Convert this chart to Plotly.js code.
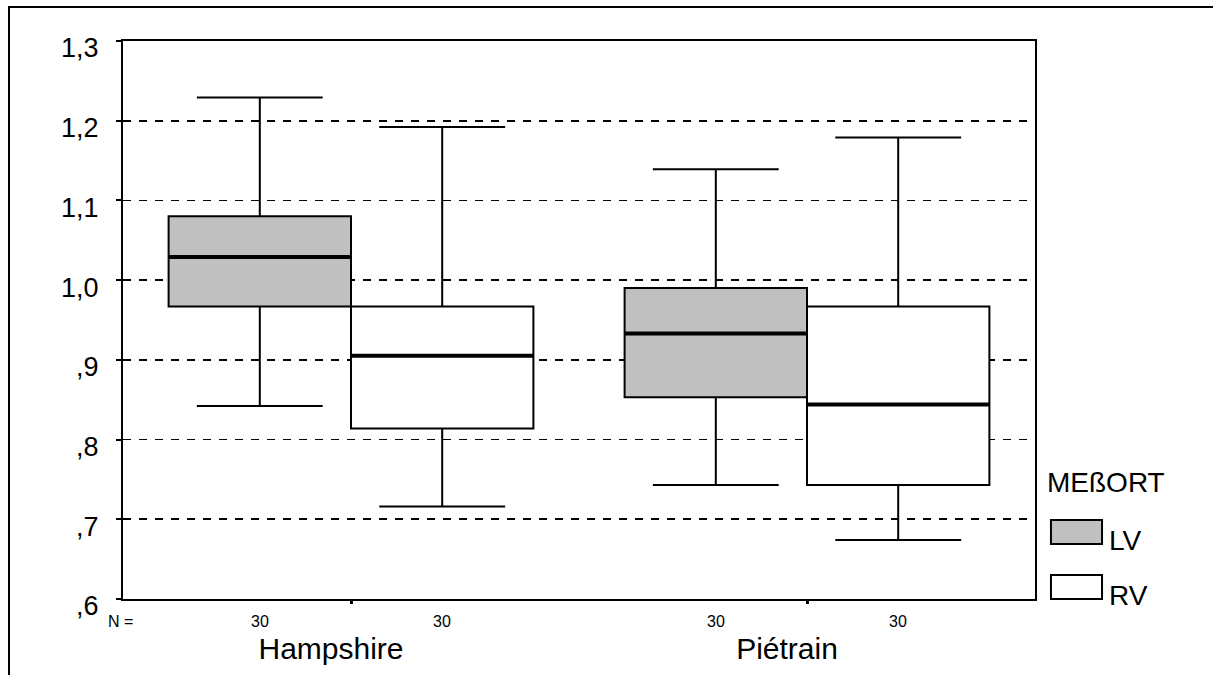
<!DOCTYPE html>
<html>
<head>
<meta charset="utf-8">
<script src="https://cdn.plot.ly/plotly-3.0.1.min.js"></script>
<style>
  html, body { margin: 0; padding: 0; background: #fff; }
  #wrap { position: relative; width: 1213px; height: 675px; overflow: hidden; }
  #chart { position: absolute; left: 0; top: 0; width: 1213px; height: 675px; }
  #frame { position: absolute; left: 8px; top: 6px; width: 1210px; height: 675px;
           border-top: 2px solid #000; border-left: 2px solid #000; pointer-events: none; }
</style>
</head>
<body>
<div id="wrap"><div id="chart"></div><div id="frame"></div></div>
<script>
// ---- data ----
const categories = ['Hampshire', 'Piétrain'];
const seriesNames = ['LV', 'RV'];
const legendTitle = 'MEßORT';

const lvLower  = [0.842, 0.743];
const lvQ1     = [0.967, 0.853];
const lvMedian = [1.029, 0.933];
const lvQ3     = [1.080, 0.990];
const lvUpper  = [1.229, 1.139];

const rvLower  = [0.716, 0.674];
const rvQ1     = [0.814, 0.743];
const rvMedian = [0.905, 0.844];
const rvQ3     = [0.967, 0.967];
const rvUpper  = [1.192, 1.179];

const nLV = [30, 30];
const nRV = [30, 30];

const yTickVals = [0.6, 0.7, 0.8, 0.9, 1.0, 1.1, 1.2, 1.3];
const yTickText = [',6', ',7', ',8', ',9', '1,0', '1,1', '1,2', '1,3'];

// ---- style ----
const FONT = 'Liberation Sans, Arial, sans-serif';
const lvFill = '#c0c0c0';
const rvFill = '#ffffff';
const boxHalf = 0.2; // offset of each box within its category group

function boxTrace(name, lo, q1, med, q3, hi, fill) {
  return {
    type: 'box', name: name, x: categories,
    lowerfence: lo, q1: q1, median: med, q3: q3, upperfence: hi,
    boxpoints: false, fillcolor: fill,
    line: { color: '#000', width: 2 },
    whiskerwidth: 0.69, hoverinfo: 'skip', showlegend: false
  };
}

const traces = [
  boxTrace(seriesNames[0], lvLower, lvQ1, lvMedian, lvQ3, lvUpper, lvFill),
  boxTrace(seriesNames[1], rvLower, rvQ1, rvMedian, rvQ3, rvUpper, rvFill)
];

const shapes = [];
const annotations = [];
categories.forEach((c, i) => {
  // thick median lines
  shapes.push({ type: 'line', xref: 'x', yref: 'y', x0: i - 2 * boxHalf, x1: i,
    y0: lvMedian[i], y1: lvMedian[i], line: { color: '#000', width: 4 } });
  shapes.push({ type: 'line', xref: 'x', yref: 'y', x0: i, x1: i + 2 * boxHalf,
    y0: rvMedian[i], y1: rvMedian[i], line: { color: '#000', width: 4 } });
  // N counts
  annotations.push({ xref: 'x', yref: 'paper', x: i - boxHalf, y: 0, yanchor: 'top', yshift: -12,
    text: String(nLV[i]), showarrow: false, font: { family: FONT, size: 16, color: '#000' } });
  annotations.push({ xref: 'x', yref: 'paper', x: i + boxHalf, y: 0, yanchor: 'top', yshift: -12,
    text: String(nRV[i]), showarrow: false, font: { family: FONT, size: 16, color: '#000' } });
});
annotations.push({ xref: 'paper', yref: 'paper', x: 0, y: 0, xanchor: 'left', yanchor: 'top',
  xshift: -17, yshift: -12, text: 'N =', showarrow: false, font: { family: FONT, size: 16, color: '#000' } });

// legend (drawn manually)
annotations.push({ xref: 'paper', yref: 'paper', x: 1.011, y: 0.208, xanchor: 'left', yanchor: 'middle',
  text: legendTitle, showarrow: false, font: { family: FONT, size: 28, color: '#000' } });
annotations.push({ xref: 'paper', yref: 'paper', x: 1.079, y: 0.104, xanchor: 'left', yanchor: 'middle',
  text: seriesNames[0], showarrow: false, font: { family: FONT, size: 28, color: '#000' } });
annotations.push({ xref: 'paper', yref: 'paper', x: 1.079, y: 0.006, xanchor: 'left', yanchor: 'middle',
  text: seriesNames[1], showarrow: false, font: { family: FONT, size: 28, color: '#000' } });
shapes.push({ type: 'rect', xref: 'paper', yref: 'paper', x0: 1.0175, x1: 1.0735, y0: 0.0986, y1: 0.1416,
  fillcolor: lvFill, line: { color: '#000', width: 2 } });
shapes.push({ type: 'rect', xref: 'paper', yref: 'paper', x0: 1.0175, x1: 1.0735, y0: 0.0, y1: 0.043,
  fillcolor: rvFill, line: { color: '#000', width: 2 } });

const layout = {
  width: 1213, height: 675,
  margin: { l: 123, r: 178, t: 41, b: 76, pad: 0 },
  paper_bgcolor: 'rgba(0,0,0,0)', plot_bgcolor: '#fff',
  boxmode: 'group', boxgap: 0.2, boxgroupgap: 0,
  showlegend: false, hovermode: false,
  font: { family: FONT, color: '#000' },
  xaxis: {
    type: 'category', range: [-0.5, 1.5], fixedrange: true,
    showline: true, linecolor: '#000', linewidth: 2, mirror: true,
    showgrid: false, zeroline: false,
    ticks: 'outside', ticklen: 3, tickwidth: 3, tickcolor: '#000',
    ticklabelstandoff: 19, ticklabelshift: -20,
    tickfont: { family: FONT, size: 30, color: '#000' }
  },
  yaxis: {
    range: [0.6, 1.3], fixedrange: true,
    tickmode: 'array', tickvals: yTickVals, ticktext: yTickText,
    showline: true, linecolor: '#000', linewidth: 2, mirror: true,
    showgrid: true, gridcolor: '#000', gridwidth: 1.6, griddash: '8px,8px',
    zeroline: false,
    ticks: 'outside', ticklen: 5, tickwidth: 2, tickcolor: '#000',
    ticklabelstandoff: 12, ticklabelshift: 7,
    tickfont: { family: FONT, size: 27, color: '#000' }
  },
  shapes: shapes,
  annotations: annotations
};

Plotly.newPlot('chart', traces, layout, { staticPlot: true, displayModeBar: false });
</script>
</body>
</html>
